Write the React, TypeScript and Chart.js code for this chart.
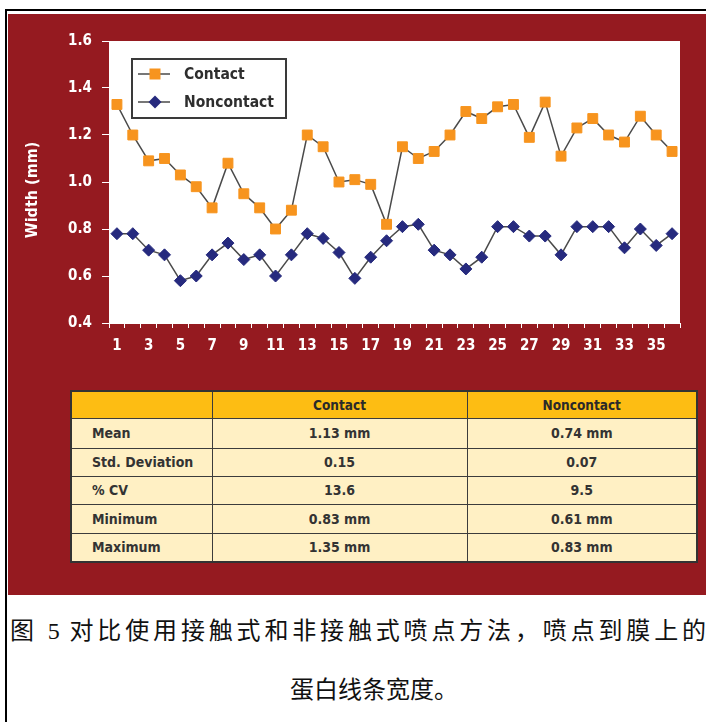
import React, { useEffect, useRef } from "react";
import { Chart, registerables } from "chart.js";

Chart.register(...registerables);

const categories = ["1","2","3","4","5","6","7","8","9","10","11","12","13","14","15","16","17","18","19","20","21","22","23","24","25","26","27","28","29","30","31","32","33","34","35","36"];
const contact = [1.33,1.20,1.09,1.10,1.03,0.98,0.89,1.08,0.95,0.89,0.80,0.88,1.20,1.15,1.00,1.01,0.99,0.82,1.15,1.10,1.13,1.20,1.30,1.27,1.32,1.33,1.19,1.34,1.11,1.23,1.27,1.20,1.17,1.28,1.20,1.13];
const noncontact = [0.78,0.78,0.71,0.69,0.58,0.60,0.69,0.74,0.67,0.69,0.60,0.69,0.78,0.76,0.70,0.59,0.68,0.75,0.81,0.82,0.71,0.69,0.63,0.68,0.81,0.81,0.77,0.77,0.69,0.81,0.81,0.81,0.72,0.80,0.73,0.78];
const seriesNames = ["Contact", "Noncontact"];
const yTitle = "Width (mm)";

const tableHeaders = ["", "Contact", "Noncontact"];
const statLabels = ["Mean", "Std. Deviation", "% CV", "Minimum", "Maximum"];
const contactStats = ["1.13 mm", "0.15", "13.6", "0.83 mm", "1.35 mm"];
const noncontactStats = ["0.74 mm", "0.07", "9.5", "0.61 mm", "0.83 mm"];

const captionLine1 = "图 5 对比使用接触式和非接触式喷点方法，喷点到膜上的";
const captionLine2 = "蛋白线条宽度。";

const RED = "#951a20";
const ORANGE = "#f7941e";
const NAVY = "#262a7e";
const LINE = "#4a4a4a";
const NARROW = "'DejaVu Sans Condensed', 'Liberation Sans Narrow', sans-serif";

const bgPlugin = {
  id: "plotBg",
  beforeDraw(chart: any) {
    const { ctx, chartArea } = chart;
    ctx.save();
    ctx.fillStyle = "#ffffff";
    ctx.fillRect(chartArea.left, chartArea.top, chartArea.right - chartArea.left, chartArea.bottom - chartArea.top);
    ctx.restore();
  },
};

const extrasPlugin = {
  id: "extras",
  afterDraw(chart: any) {
    const { ctx, chartArea } = chart;
    ctx.save();
    // y title
    ctx.translate(25, 176);
    ctx.rotate(-Math.PI / 2);
    ctx.fillStyle = "#ffffff";
    ctx.font = `bold 16px ${NARROW}`;
    ctx.textAlign = "center";
    ctx.textBaseline = "middle";
    ctx.fillText(yTitle, 0, 0);
    ctx.restore();

    // legend
    const lx = chartArea.left + 23;
    const ly = chartArea.top + 18;
    const lw = 154;
    const lh = 59;
    ctx.save();
    ctx.fillStyle = "#ffffff";
    ctx.fillRect(lx, ly, lw, lh);
    ctx.strokeStyle = "#3a3a3a";
    ctx.lineWidth = 2;
    ctx.strokeRect(lx, ly, lw, lh);
    const rows = [ly + 15, ly + 43];
    rows.forEach((ry, i) => {
      ctx.strokeStyle = LINE;
      ctx.lineWidth = 1.5;
      ctx.beginPath();
      ctx.moveTo(lx + 6, ry);
      ctx.lineTo(lx + 38, ry);
      ctx.stroke();
      const cx = lx + 23;
      if (i === 0) {
        ctx.fillStyle = ORANGE;
        ctx.fillRect(cx - 5.5, ry - 5.5, 11, 11);
      } else {
        ctx.fillStyle = NAVY;
        ctx.beginPath();
        ctx.moveTo(cx, ry - 6.5);
        ctx.lineTo(cx + 6.5, ry);
        ctx.lineTo(cx, ry + 6.5);
        ctx.lineTo(cx - 6.5, ry);
        ctx.closePath();
        ctx.fill();
      }
      ctx.fillStyle = "#2e2e2e";
      ctx.font = `bold 15.5px ${NARROW}`;
      ctx.textAlign = "left";
      ctx.textBaseline = "middle";
      ctx.fillText(seriesNames[i], lx + 52, ry + 1);
    });
    ctx.restore();
  },
};

function ChartBox() {
  const ref = useRef<HTMLCanvasElement | null>(null);
  useEffect(() => {
    if (!ref.current) return;
    const font = { family: NARROW, size: 15, weight: "bold" as const };
    const chart = new Chart(ref.current, {
      type: "line",
      data: {
        labels: categories,
        datasets: [
          {
            label: seriesNames[0],
            data: contact,
            borderColor: LINE,
            borderWidth: 1.5,
            pointStyle: "rect",
            pointRadius: 7,
            pointBackgroundColor: ORANGE,
            pointBorderColor: ORANGE,
            pointBorderWidth: 1,
            tension: 0,
          },
          {
            label: seriesNames[1],
            data: noncontact,
            borderColor: LINE,
            borderWidth: 1.5,
            pointStyle: "rectRot",
            pointRadius: 6,
            pointBackgroundColor: NAVY,
            pointBorderColor: NAVY,
            pointBorderWidth: 1,
            tension: 0,
          },
        ],
      },
      options: {
        animation: false,
        responsive: false,
        maintainAspectRatio: false,
        layout: { padding: { left: 0, top: 27, right: 26, bottom: 11 } },
        plugins: { legend: { display: false }, tooltip: { enabled: false } },
        scales: {
          x: {
            type: "category",
            offset: true,
            grid: { display: true, drawOnChartArea: false, drawTicks: true, tickLength: 5, color: "#ffffff", offset: true },
            border: { color: "#ffffff", width: 1 },
            ticks: {
              autoSkip: false,
              maxRotation: 0,
              color: "#ffffff",
              font,
              padding: 9,
              callback: (_v: any, i: number) => (i % 2 === 0 ? categories[i] : ""),
            },
            afterFit: (s: any) => {
              s.height = 40;
            },
          },
          y: {
            min: 0.4,
            max: 1.6,
            grid: { display: true, drawOnChartArea: false, drawTicks: true, tickLength: 7, color: "#ffffff" },
            border: { color: "#ffffff", width: 1 },
            ticks: {
              stepSize: 0.2,
              color: "#ffffff",
              font,
              padding: 10,
              callback: (v: any) => Number(v).toFixed(1),
            },
            afterFit: (s: any) => {
              s.width = 101;
            },
          },
        },
      },
      plugins: [bgPlugin, extrasPlugin],
    });
    return () => chart.destroy();
  }, []);
  return <canvas ref={ref} width={698} height={360} style={{ position: "absolute", left: 8, top: 14, width: 698, height: 360 }} />;
}

const rowHeights = [30, 28, 28, 29, 29];

export default function App() {
  const cellBorder = "1.5px solid #3c3c3c";
  const bodyFont: React.CSSProperties = {
    fontFamily: NARROW,
    fontWeight: "bold",
    fontSize: 14,
    color: "#333333",
    whiteSpace: "nowrap",
  };
  return (
    <div style={{ position: "absolute", left: 0, top: 0, width: 706, height: 722, background: "#ffffff", overflow: "hidden" }}>
      <div style={{ position: "absolute", left: 5, top: 9, width: 701, height: 2, background: "#000" }} />
      <div style={{ position: "absolute", left: 5, top: 9, width: 2, height: 713, background: "#000" }} />
      <div style={{ position: "absolute", left: 8, top: 14, width: 698, height: 581, background: RED }} />
      <ChartBox />
      <table
        style={{
          position: "absolute",
          left: 70,
          top: 390,
          width: 626,
          borderCollapse: "collapse",
          border: "2px solid #333",
          tableLayout: "fixed",
        }}
      >
        <colgroup>
          <col style={{ width: 141 }} />
          <col style={{ width: 255 }} />
          <col style={{ width: 230 }} />
        </colgroup>
        <thead>
          <tr style={{ height: 27, background: "#fdbd13" }}>
            {tableHeaders.map((h, i) => (
              <th
                key={i}
                style={{
                  border: cellBorder,
                  padding: 0,
                  fontFamily: NARROW,
                  fontWeight: "bold",
                  fontSize: 13.5,
                  color: "#2a2a2a",
                  textAlign: "center",
                  whiteSpace: "nowrap",
                }}
              >
                {h}
              </th>
            ))}
          </tr>
        </thead>
        <tbody>
          {statLabels.map((lab, r) => (
            <tr key={lab} style={{ height: rowHeights[r], background: "#fff0c4" }}>
              <td style={{ ...bodyFont, border: cellBorder, padding: "0 0 0 20px", textAlign: "left" }}>{lab}</td>
              <td style={{ ...bodyFont, border: cellBorder, padding: 0, textAlign: "center" }}>{contactStats[r]}</td>
              <td style={{ ...bodyFont, border: cellBorder, padding: 0, textAlign: "center" }}>{noncontactStats[r]}</td>
            </tr>
          ))}
        </tbody>
      </table>
      <div
        style={{
          position: "absolute",
          left: 10,
          top: 616,
          width: 696,
          fontFamily: "'Liberation Serif', 'Noto Sans CJK SC', serif",
          fontSize: 24,
          lineHeight: "30px",
          color: "#111",
          textAlign: "justify",
          textAlignLast: "justify",
        }}
      >
        {captionLine1}
      </div>
      <div
        style={{
          position: "absolute",
          left: 290,
          top: 675,
          fontFamily: "'Liberation Serif', 'Noto Sans CJK SC', serif",
          fontSize: 24,
          lineHeight: "30px",
          color: "#111",
          whiteSpace: "nowrap",
        }}
      >
        {captionLine2}
      </div>
    </div>
  );
}
